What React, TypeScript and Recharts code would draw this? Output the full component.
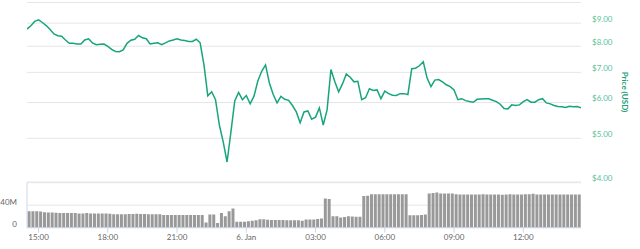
import { LineChart, Line, BarChart, Bar, XAxis, YAxis, CartesianGrid } from "recharts";

// 10-minute samples, 5 Jan 14:30 -> 6 Jan 14:30 (hours since 5 Jan 00:00)
const START_HOUR = 14.5;
const STEP_HOURS = 1 / 6;

const priceUsd = [
  8.73, 8.88, 9.08, 9.15, 9.03, 8.89, 8.71, 8.52, 8.44, 8.42,
  8.26, 8.12, 8.12, 8.09, 8.09, 8.26, 8.31, 8.14, 8.06, 8.08,
  8.09, 7.99, 7.87, 7.79, 7.78, 7.85, 8.12, 8.25, 8.29, 8.45,
  8.35, 8.31, 8.09, 8.12, 8.14, 8.06, 8.14, 8.22, 8.26, 8.31,
  8.26, 8.24, 8.2, 8.2, 8.29, 8.14, 7.27, 6.21, 6.34, 6.09,
  5.35, 4.91, 4.43, 5.16, 6.05, 6.32, 6.09, 6.22, 5.96, 6.2,
  6.7, 7.04, 7.27, 6.63, 6.25, 5.99, 6.19, 6.1, 6.07, 5.91,
  5.72, 5.41, 5.72, 5.75, 5.51, 5.57, 5.84, 5.35, 5.78, 7.1,
  6.68, 6.34, 6.6, 6.94, 6.83, 6.67, 6.69, 6.09, 6.15, 6.44,
  6.38, 6.4, 6.12, 6.36, 6.28, 6.23, 6.22, 6.28, 6.28, 6.25,
  7.13, 7.15, 7.24, 7.39, 6.8, 6.51, 6.73, 6.75, 6.67, 6.57,
  6.51, 6.4, 6.09, 6.12, 6.06, 6.03, 6.01, 6.1, 6.11, 6.12,
  6.12, 6.07, 6.03, 5.95, 5.82, 5.81, 5.93, 5.91, 5.93, 6.03,
  6.09, 6.01, 6.01, 6.09, 6.12, 5.99, 5.96, 5.91, 5.88, 5.87,
  5.85, 5.89, 5.87, 5.88, 5.84,
];

// 24h volume in millions, one bar per 10-minute slot
const volumeM = [
  29.3, 29.3, 29.3, 29, 27.5, 27.2, 27, 26.5, 26.3, 26.3,
  26.3, 26.3, 26.3, 25.4, 25.4, 26, 25.4, 25.2, 25.2, 25.2,
  25.2, 25, 24, 24, 24, 24, 24.5, 24.5, 25, 24.5,
  24.5, 24, 24, 24, 24, 22.8, 22.8, 22.8, 22.8, 22.8,
  22.8, 22.8, 22.8, 22.8, 22.8, 22.8, 9.2, 23.5, 23.5, 8.5,
  26.3, 20.4, 29.3, 34, 10.8, 10.8, 10.8, 11.5, 12.2, 13.3,
  15.1, 15.1, 14.2, 13.9, 13.9, 13.9, 13.9, 13.3, 13.3, 13.3,
  13.3, 12.2, 14.6, 14.6, 14.6, 15.5, 16.4, 51.9, 51, 20.4,
  20.4, 18.1, 19, 20.4, 20, 19.5, 19.5, 56.5, 57, 59.6,
  59.6, 59.6, 59.6, 59.6, 59.6, 59.6, 59.6, 59.6, 59.6, 22.2,
  22.2, 22.2, 22.8, 23.5, 60.8, 61.5, 62.6, 60.8, 60.8, 60.8,
  60.8, 59.6, 59, 59, 59, 59, 59, 59, 59.5, 59,
  59, 59, 59, 58.5, 59, 59.5, 59, 59, 59, 59.5,
  59.5, 60.5, 59, 59, 59, 59, 59, 59, 59, 59,
  59, 59, 59, 59,
];

const timeTicks = [15, 18, 21, 24, 27, 30, 33, 36];
const timeLabels = ["15:00", "18:00", "21:00", "6. Jan", "03:00", "06:00", "09:00", "12:00"];
const priceTicks = [4, 5, 6, 7, 8, 9, 10];
const volumeTicks = [0, 40, 80];

const priceData = priceUsd.map((price, i) => ({ t: START_HOUR + i * STEP_HOURS, price }));
const volumeData = volumeM.map((volume, i) => ({ t: START_HOUR + (i + 0.5) * STEP_HOURS, volume }));

const X_DOMAIN: [number, number] = [14.5, 38.5];
const FONT = "Lato, 'Open Sans', sans-serif";
const GREEN = "#17a57c";

const PriceTick = (props: any) => {
  const { x, y, payload } = props;
  if (payload.value === 10) return <g />;
  return (
    <text x={x + 11} y={y - 4} dy="0.35em" fill="#5bbf9c" fontSize={8} fontFamily={FONT}>
      ${payload.value.toFixed(2)}
    </text>
  );
};

const VolumeTick = (props: any) => {
  const { x, y, payload } = props;
  if (payload.value === 80) return <g />;
  return (
    <text x={x - 10} y={y - 3.5} dy="0.35em" textAnchor="end" fill="#666" fontSize={8} fontFamily={FONT}>
      {payload.value === 0 ? "0" : `${payload.value}M`}
    </text>
  );
};

const TimeTick = (props: any) => {
  const { x, y, payload } = props;
  const idx = timeTicks.indexOf(payload.value);
  return (
    <text x={x} y={y} dy={7.2} textAnchor="middle" fill="#666" fontSize={8} fontFamily={FONT}>
      {timeLabels[idx]}
    </text>
  );
};

export default function App() {
  return (
    <div style={{ position: "absolute", left: 0, top: 0, width: 640, height: 249, background: "#fff" }}>
      <div style={{ position: "absolute", left: 0, top: 0 }}>
        <LineChart width={640} height={185} data={priceData} margin={{ top: 2.5, right: 0, left: 27, bottom: 3 }}>
          <CartesianGrid vertical={false} stroke="#e6e6e6" />
          <XAxis dataKey="t" type="number" domain={X_DOMAIN} hide allowDataOverflow />
          <YAxis
            orientation="right"
            type="number"
            scale="log"
            domain={[4, 10]}
            ticks={priceTicks}
            interval={0}
            width={59}
            axisLine={false}
            tickLine={false}
            tickSize={0}
            tickMargin={0}
            tick={PriceTick}
            allowDataOverflow
          />
          <Line
            type="linear"
            dataKey="price"
            stroke={GREEN}
            strokeWidth={1.5}
            dot={false}
            activeDot={false}
            isAnimationActive={false}
          />
        </LineChart>
      </div>
      <div style={{ position: "absolute", left: 0, top: 180 }}>
        <BarChart width={640} height={69} data={volumeData} margin={{ top: 2.7, right: 59, left: 0, bottom: 0 }} barCategoryGap="15%">
          <CartesianGrid vertical={false} stroke="#e6e6e6" />
          <XAxis
            dataKey="t"
            type="number"
            domain={X_DOMAIN}
            ticks={timeTicks}
            interval={0}
            height={21.3}
            axisLine={{ stroke: "#ccd6eb" }}
            tickLine={{ stroke: "#ccd6eb" }}
            tickSize={5}
            tickMargin={0}
            tick={TimeTick}
            allowDataOverflow
          />
          <YAxis
            type="number"
            domain={[0, 80]}
            ticks={volumeTicks}
            interval={0}
            width={27}
            axisLine={{ stroke: "#ccd6eb" }}
            tickLine={false}
            tickSize={0}
            tickMargin={0}
            tick={VolumeTick}
          />
          <Bar dataKey="volume" fill="#999999" isAnimationActive={false} />
        </BarChart>
      </div>
      <svg width={640} height={249} style={{ position: "absolute", left: 0, top: 0, pointerEvents: "none" }}>
        <text
          x={625}
          y={92}
          transform="rotate(90 625 92)"
          textAnchor="middle"
          dy="0.35em"
          fill="#1a9e77"
          fontSize={8}
          fontWeight="bold"
          fontFamily={FONT}
        >
          Price (USD)
        </text>
      </svg>
    </div>
  );
}
